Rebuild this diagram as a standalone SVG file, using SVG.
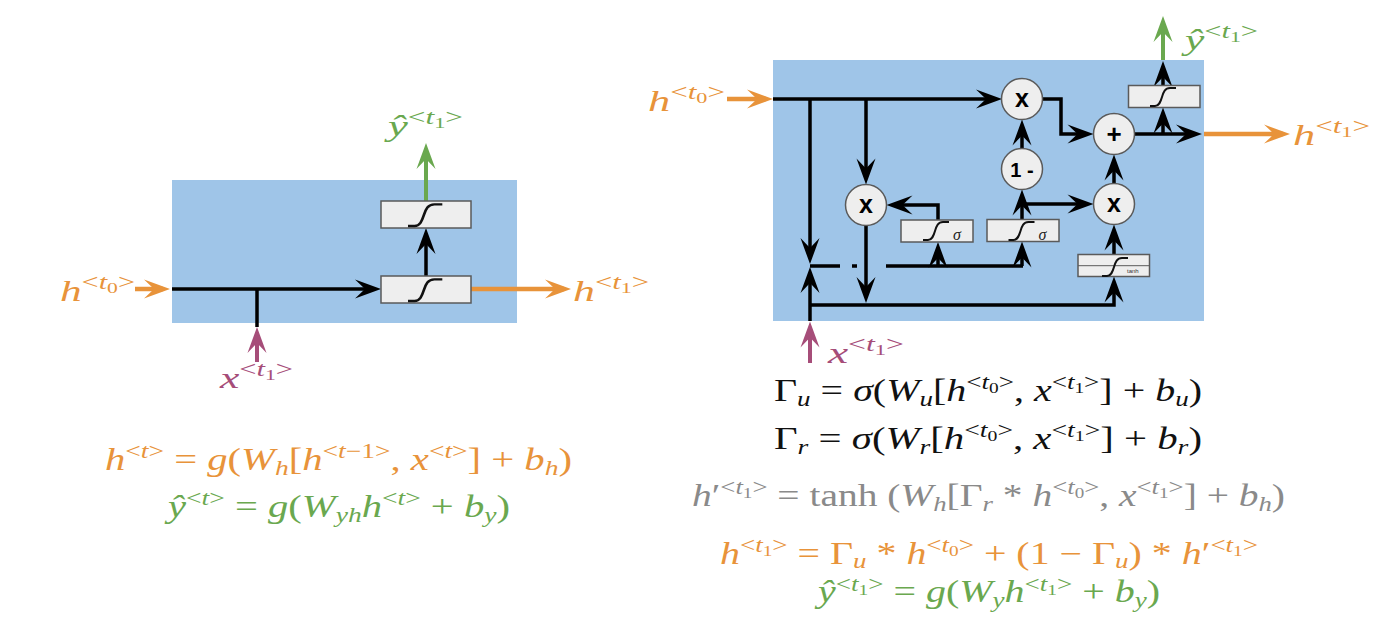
<svg xmlns="http://www.w3.org/2000/svg" xmlns:xlink="http://www.w3.org/1999/xlink" width="1380" height="634" viewBox="0 0 1380 634">
<style>
.bg{fill:#9FC5E8}
.box{fill:#EEEEEE;stroke:#5a5a5a;stroke-width:1.5}
.cir{fill:#EEEEEE;stroke:#5a5a5a;stroke-width:1.5}
.op{font-family:"Liberation Sans","DejaVu Sans",sans-serif;font-weight:bold;fill:#000;text-anchor:middle}
.sgc{fill:none;stroke:#111;stroke-width:2}
.ln{fill:none;stroke:#000;stroke-width:3.5}
.lo{fill:none;stroke:#E8933A;stroke-width:4.5}
.lg{fill:none;stroke:#6AA84F;stroke-width:4}
.lm{fill:none;stroke:#A64D79;stroke-width:4}
.eq{font-family:"Liberation Serif","DejaVu Serif",serif;font-size:31px}
.lb{font-family:"Liberation Serif","DejaVu Serif",serif;font-size:30px}
.it{font-style:italic}
.sp{font-size:21px}
.ss{font-size:15px}
.lsp{font-size:21px}
.lss{font-size:15px}
.sig{font-family:"Liberation Serif","DejaVu Serif",serif;font-style:italic;font-size:16px;fill:#222}
</style>
<defs>
<path id="sg" d="M0,0 L5,0 C9,0 10.5,-4 12,-9 C13.5,-14 15,-18 20,-18 L26,-18"/>
<marker id="ak" viewBox="-27 -10 28 20" markerWidth="28" markerHeight="20" refX="-7" refY="0" orient="auto" markerUnits="userSpaceOnUse"><path d="M0,0 L-26,-9.5 L-16,0 L-26,9.5 Z" fill="#000"/></marker>
<marker id="ao" viewBox="-27 -10 28 20" markerWidth="28" markerHeight="20" refX="-7" refY="0" orient="auto" markerUnits="userSpaceOnUse"><path d="M0,0 L-26,-9.5 L-16,0 L-26,9.5 Z" fill="#E8933A"/></marker>
<marker id="ag" viewBox="-27 -10 28 20" markerWidth="28" markerHeight="20" refX="-7" refY="0" orient="auto" markerUnits="userSpaceOnUse"><path d="M0,0 L-26,-9.5 L-16,0 L-26,9.5 Z" fill="#6AA84F"/></marker>
<marker id="am" viewBox="-27 -10 28 20" markerWidth="28" markerHeight="20" refX="-7" refY="0" orient="auto" markerUnits="userSpaceOnUse"><path d="M0,0 L-26,-9.5 L-16,0 L-26,9.5 Z" fill="#A64D79"/></marker>
</defs>

<!-- LEFT RNN CELL -->
<g id="rnn-cell"><rect class="bg" x="172" y="180" width="345" height="143"/></g>

<g id="rnn-connectors">
<path class="lo" d="M135,289 H163" marker-end="url(#ao)"/>
<path class="ln" d="M172,289 H374" marker-end="url(#ak)"/>
<path class="ln" d="M257,289 V327"/>
<path class="lm" d="M257,362 V334" marker-end="url(#am)"/>
<path class="ln" d="M426,276 V235" marker-end="url(#ak)"/>
<path class="lg" d="M426,201 V150" marker-end="url(#ag)"/>
<path class="lo" d="M471,289 H564" marker-end="url(#ao)"/>
</g>

<g id="rnn-act-h"><rect class="box" x="381" y="276" width="90" height="27"/><use xlink:href="#sg" class="sgc" transform="translate(408,301) scale(1.32,1.2)"/></g>
<g id="rnn-act-y"><rect class="box" x="381" y="201" width="90" height="27"/><use xlink:href="#sg" class="sgc" transform="translate(408,226) scale(1.32,1.2)"/></g>

<g id="rnn-labels">
<text class="lb" x="60" y="301" fill="#E8933A" textLength="75" lengthAdjust="spacingAndGlyphs"><tspan class="it">h</tspan><tspan class="lsp" dy="-12">&lt;<tspan class="it">t</tspan><tspan class="lss" dy="4">0</tspan><tspan dy="-4">&gt;</tspan></tspan></text>
<text class="lb" x="573" y="301" fill="#E8933A" textLength="76" lengthAdjust="spacingAndGlyphs"><tspan class="it">h</tspan><tspan class="lsp" dy="-12">&lt;<tspan class="it">t</tspan><tspan class="lss" dy="4">1</tspan><tspan dy="-4">&gt;</tspan></tspan></text>
<text class="lb" x="388" y="136" fill="#6AA84F" textLength="75" lengthAdjust="spacingAndGlyphs"><tspan class="it">ŷ</tspan><tspan class="lsp" dy="-12">&lt;<tspan class="it">t</tspan><tspan class="lss" dy="4">1</tspan><tspan dy="-4">&gt;</tspan></tspan></text>
<text class="lb" x="220" y="388" fill="#A64D79" textLength="73" lengthAdjust="spacingAndGlyphs"><tspan class="it">x</tspan><tspan class="lsp" dy="-12">&lt;<tspan class="it">t</tspan><tspan class="lss" dy="4">1</tspan><tspan dy="-4">&gt;</tspan></tspan></text>
</g>

<g id="rnn-equations">
<text class="eq" x="105" y="470" fill="#E8933A" textLength="467" lengthAdjust="spacingAndGlyphs"><tspan class="it">h</tspan><tspan class="sp" dy="-12">&lt;<tspan class="it">t</tspan>&gt;</tspan><tspan dy="12"> = </tspan><tspan class="it">g</tspan>(<tspan class="it">W</tspan><tspan class="sp it" dy="5">h</tspan><tspan dy="-5">[</tspan><tspan class="it">h</tspan><tspan class="sp" dy="-12">&lt;<tspan class="it">t</tspan>−1&gt;</tspan><tspan dy="12">, </tspan><tspan class="it">x</tspan><tspan class="sp" dy="-12">&lt;<tspan class="it">t</tspan>&gt;</tspan><tspan dy="12">] + </tspan><tspan class="it">b</tspan><tspan class="sp it" dy="5">h</tspan><tspan dy="-5">)</tspan></text>
<text class="eq" x="168" y="517" fill="#6AA84F" textLength="342" lengthAdjust="spacingAndGlyphs"><tspan class="it">ŷ</tspan><tspan class="sp" dy="-12">&lt;<tspan class="it">t</tspan>&gt;</tspan><tspan dy="12"> = </tspan><tspan class="it">g</tspan>(<tspan class="it">W</tspan><tspan class="sp it" dy="5">yh</tspan><tspan class="it" dy="-5">h</tspan><tspan class="sp" dy="-12">&lt;<tspan class="it">t</tspan>&gt;</tspan><tspan dy="12"> + </tspan><tspan class="it">b</tspan><tspan class="sp it" dy="5">y</tspan><tspan dy="-5">)</tspan></text>
</g>

<!-- RIGHT GRU CELL -->
<g id="gru-cell"><rect class="bg" x="773" y="60" width="431" height="261"/></g>

<g id="gru-connectors">
<path class="lo" d="M727,99 H766" marker-end="url(#ao)"/>
<path class="ln" d="M773,99 H995" marker-end="url(#ak)"/>
<path class="ln" d="M810,99 V257" marker-end="url(#ak)"/>
<path class="ln" d="M866,99 V177.5" marker-end="url(#ak)"/>
<path class="ln" d="M866,225.5 V296" marker-end="url(#ak)"/>
<path class="ln" d="M938,220 V205 H893.5" marker-end="url(#ak)"/>
<path class="ln" d="M810,266 H840 M852,266 H857 M886,266 H1023"/>
<path class="ln" d="M938,266 V249" marker-end="url(#ak)"/>
<path class="ln" d="M1022,266 V248.5" marker-end="url(#ak)"/>
<path class="ln" d="M1022,219.5 V196.5" marker-end="url(#ak)"/>
<path class="ln" d="M1022,204 H1086.5" marker-end="url(#ak)"/>
<path class="ln" d="M1022,148.5 V126.5" marker-end="url(#ak)"/>
<path class="ln" d="M1042.5,99 H1061 V134 H1086.5" marker-end="url(#ak)"/>
<path class="ln" d="M1114,183.5 V161.5" marker-end="url(#ak)"/>
<path class="ln" d="M1114,254.5 V231.5" marker-end="url(#ak)"/>
<path class="ln" d="M810,305 H1114 V283.5" marker-end="url(#ak)"/>
<path class="ln" d="M1134.5,134 H1195" marker-end="url(#ak)"/>
<path class="ln" d="M1163,134 V114.5" marker-end="url(#ak)"/>
<path class="ln" d="M1163,85.5 V68" marker-end="url(#ak)"/>
<path class="lg" d="M1163,60 V23" marker-end="url(#ag)"/>
<path class="lo" d="M1204,134 H1283" marker-end="url(#ao)"/>
<path class="ln" d="M810,321 V274" marker-end="url(#ak)"/>
<path class="lm" d="M810,363 V328.5" marker-end="url(#am)"/>
</g>

<g id="gru-mul-reset"><circle class="cir" cx="866" cy="205" r="20.5"/><text class="op" x="866" y="212.5" font-size="25">x</text></g>
<g id="gru-mul-update"><circle class="cir" cx="1022" cy="99" r="20.5"/><text class="op" x="1022" y="106.5" font-size="25">x</text></g>
<g id="gru-one-minus"><circle class="cir" cx="1022" cy="169" r="20.5"/><text class="op" x="1022" y="176.5" font-size="20">1 -</text></g>
<g id="gru-mul-cand"><circle class="cir" cx="1114" cy="204" r="20.5"/><text class="op" x="1114" y="211.5" font-size="25">x</text></g>
<g id="gru-add"><circle class="cir" cx="1114" cy="134" r="20.5"/><text class="op" x="1114" y="143" font-size="26">+</text></g>

<g id="gru-sigma-r"><rect class="box" x="901" y="220" width="72" height="22"/><use xlink:href="#sg" class="sgc" transform="translate(923,240)"/><text class="sig" x="953" y="240">σ</text></g>
<g id="gru-sigma-u"><rect class="box" x="987" y="219.5" width="72" height="22"/><use xlink:href="#sg" class="sgc" transform="translate(1008.5,240)"/><text class="sig" x="1038.5" y="240">σ</text></g>
<g id="gru-tanh"><rect class="box" x="1078" y="254.5" width="71.5" height="22"/><path d="M1078,265.7 H1149.5" stroke="#5a5a5a" stroke-width="1"/><use xlink:href="#sg" class="sgc" transform="translate(1102,276)"/><text x="1127" y="273" font-family="Liberation Sans, sans-serif" font-size="6" fill="#333">tanh</text></g>
<g id="gru-out"><rect class="box" x="1128.5" y="85.5" width="71.5" height="22"/><use xlink:href="#sg" class="sgc" transform="translate(1150,106)"/></g>

<g id="gru-labels">
<text class="lb" x="648" y="111" fill="#E8933A" textLength="77" lengthAdjust="spacingAndGlyphs"><tspan class="it">h</tspan><tspan class="lsp" dy="-12">&lt;<tspan class="it">t</tspan><tspan class="lss" dy="4">0</tspan><tspan dy="-4">&gt;</tspan></tspan></text>
<text class="lb" x="1293" y="145" fill="#E8933A" textLength="77" lengthAdjust="spacingAndGlyphs"><tspan class="it">h</tspan><tspan class="lsp" dy="-12">&lt;<tspan class="it">t</tspan><tspan class="lss" dy="4">1</tspan><tspan dy="-4">&gt;</tspan></tspan></text>
<text class="lb" x="1185" y="50" fill="#6AA84F" textLength="73" lengthAdjust="spacingAndGlyphs"><tspan class="it">ŷ</tspan><tspan class="lsp" dy="-12">&lt;<tspan class="it">t</tspan><tspan class="lss" dy="4">1</tspan><tspan dy="-4">&gt;</tspan></tspan></text>
<text class="lb" x="828" y="363" fill="#A64D79" textLength="76" lengthAdjust="spacingAndGlyphs"><tspan class="it">x</tspan><tspan class="lsp" dy="-12">&lt;<tspan class="it">t</tspan><tspan class="lss" dy="4">1</tspan><tspan dy="-4">&gt;</tspan></tspan></text>
</g>

<g id="gru-equations">
<text class="eq" x="774" y="401" fill="#111" textLength="428" lengthAdjust="spacingAndGlyphs">Γ<tspan class="sp it" dy="5">u</tspan><tspan dy="-5"> = </tspan><tspan class="it">σ</tspan>(<tspan class="it">W</tspan><tspan class="sp it" dy="5">u</tspan><tspan dy="-5">[</tspan><tspan class="it">h</tspan><tspan class="sp" dy="-12">&lt;<tspan class="it">t</tspan><tspan class="ss" dy="4">0</tspan><tspan dy="-4">&gt;</tspan></tspan><tspan dy="12">, </tspan><tspan class="it">x</tspan><tspan class="sp" dy="-12">&lt;<tspan class="it">t</tspan><tspan class="ss" dy="4">1</tspan><tspan dy="-4">&gt;</tspan></tspan><tspan dy="12">] + </tspan><tspan class="it">b</tspan><tspan class="sp it" dy="5">u</tspan><tspan dy="-5">)</tspan></text>
<text class="eq" x="774" y="449" fill="#111" textLength="428" lengthAdjust="spacingAndGlyphs">Γ<tspan class="sp it" dy="5">r</tspan><tspan dy="-5"> = </tspan><tspan class="it">σ</tspan>(<tspan class="it">W</tspan><tspan class="sp it" dy="5">r</tspan><tspan dy="-5">[</tspan><tspan class="it">h</tspan><tspan class="sp" dy="-12">&lt;<tspan class="it">t</tspan><tspan class="ss" dy="4">0</tspan><tspan dy="-4">&gt;</tspan></tspan><tspan dy="12">, </tspan><tspan class="it">x</tspan><tspan class="sp" dy="-12">&lt;<tspan class="it">t</tspan><tspan class="ss" dy="4">1</tspan><tspan dy="-4">&gt;</tspan></tspan><tspan dy="12">] + </tspan><tspan class="it">b</tspan><tspan class="sp it" dy="5">r</tspan><tspan dy="-5">)</tspan></text>
<text class="eq" x="692" y="506" fill="#8A8A8A" textLength="593" lengthAdjust="spacingAndGlyphs"><tspan class="it">h</tspan>′<tspan class="sp" dy="-12">&lt;<tspan class="it">t</tspan><tspan class="ss" dy="4">1</tspan><tspan dy="-4">&gt;</tspan></tspan><tspan dy="12"> = tanh (</tspan><tspan class="it">W</tspan><tspan class="sp it" dy="5">h</tspan><tspan dy="-5">[Γ</tspan><tspan class="sp it" dy="5">r</tspan><tspan dy="-5"> * </tspan><tspan class="it">h</tspan><tspan class="sp" dy="-12">&lt;<tspan class="it">t</tspan><tspan class="ss" dy="4">0</tspan><tspan dy="-4">&gt;</tspan></tspan><tspan dy="12">, </tspan><tspan class="it">x</tspan><tspan class="sp" dy="-12">&lt;<tspan class="it">t</tspan><tspan class="ss" dy="4">1</tspan><tspan dy="-4">&gt;</tspan></tspan><tspan dy="12">] + </tspan><tspan class="it">b</tspan><tspan class="sp it" dy="5">h</tspan><tspan dy="-5">)</tspan></text>
<text class="eq" x="720" y="564" fill="#E8933A" textLength="538" lengthAdjust="spacingAndGlyphs"><tspan class="it">h</tspan><tspan class="sp" dy="-12">&lt;<tspan class="it">t</tspan><tspan class="ss" dy="4">1</tspan><tspan dy="-4">&gt;</tspan></tspan><tspan dy="12"> = Γ</tspan><tspan class="sp it" dy="4">u</tspan><tspan dy="-4"> * </tspan><tspan class="it">h</tspan><tspan class="sp" dy="-12">&lt;<tspan class="it">t</tspan><tspan class="ss" dy="4">0</tspan><tspan dy="-4">&gt;</tspan></tspan><tspan dy="12"> + (1 − Γ</tspan><tspan class="sp it" dy="4">u</tspan><tspan dy="-4">) * </tspan><tspan class="it">h</tspan>′<tspan class="sp" dy="-12">&lt;<tspan class="it">t</tspan><tspan class="ss" dy="4">1</tspan><tspan dy="-4">&gt;</tspan></tspan></text>
<text class="eq" x="818" y="602" fill="#6AA84F" textLength="342" lengthAdjust="spacingAndGlyphs"><tspan class="it">ŷ</tspan><tspan class="sp" dy="-11">&lt;<tspan class="it">t</tspan><tspan class="ss" dy="4">1</tspan><tspan dy="-4">&gt;</tspan></tspan><tspan dy="11"> = </tspan><tspan class="it">g</tspan>(<tspan class="it">W</tspan><tspan class="sp it" dy="5">y</tspan><tspan class="it" dy="-5">h</tspan><tspan class="sp" dy="-11">&lt;<tspan class="it">t</tspan><tspan class="ss" dy="4">1</tspan><tspan dy="-4">&gt;</tspan></tspan><tspan dy="11"> + </tspan><tspan class="it">b</tspan><tspan class="sp it" dy="5">y</tspan><tspan dy="-5">)</tspan></text>
</g>
</svg>
